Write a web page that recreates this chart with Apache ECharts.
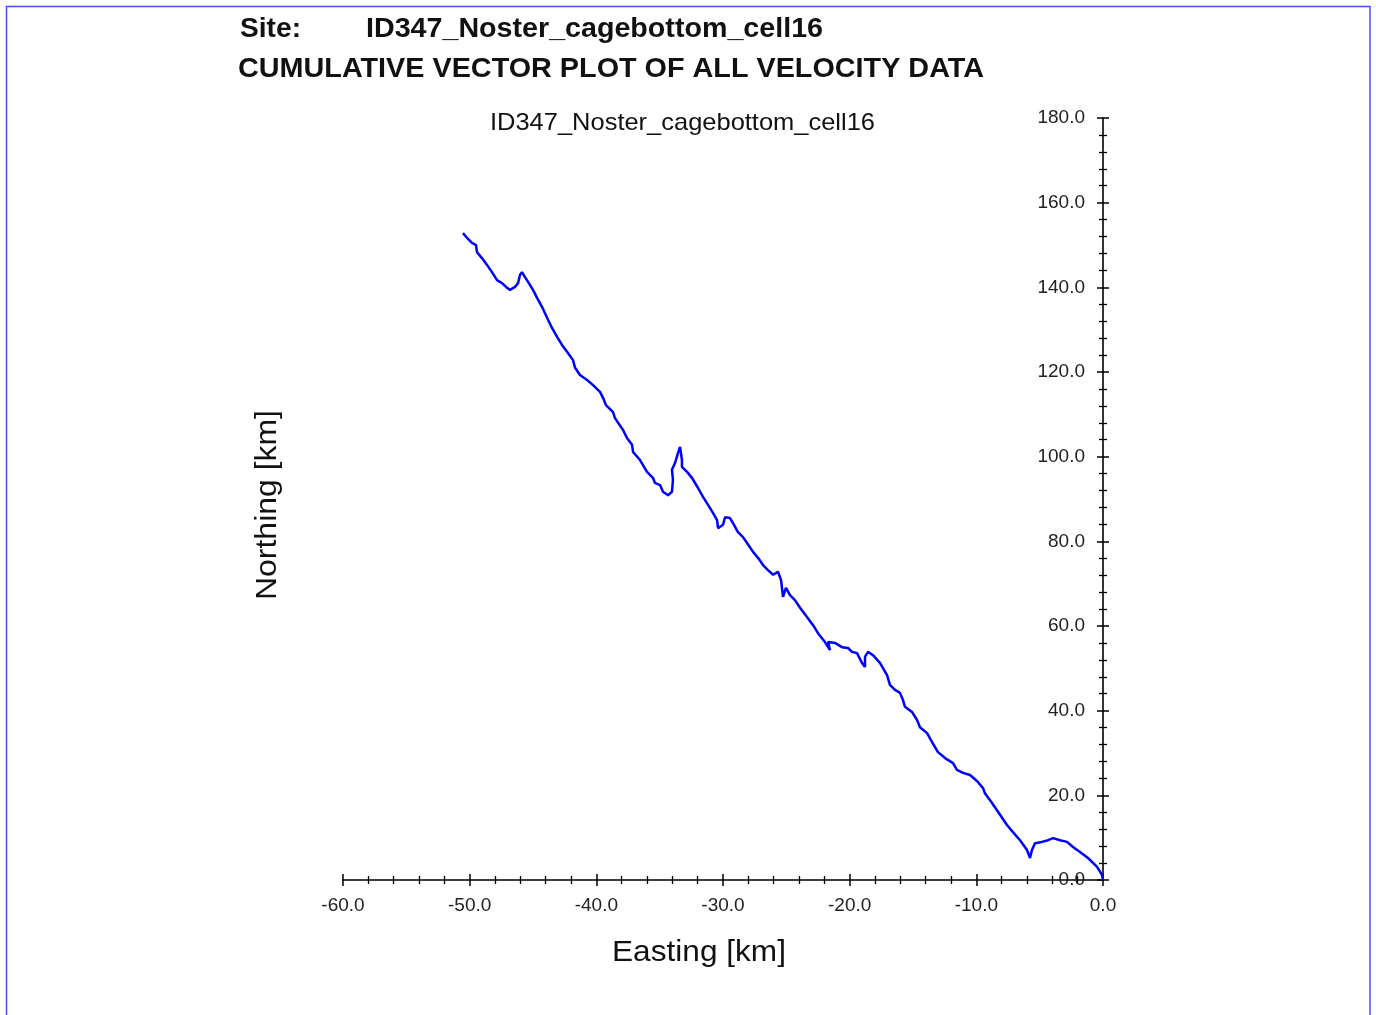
<!DOCTYPE html>
<html>
<head>
<meta charset="utf-8">
<script src="https://cdn.jsdelivr.net/npm/echarts@6/dist/echarts.min.js"></script>
<style>
html,body{margin:0;padding:0;background:#fff;}
#chart{width:1376px;height:1015px;}
</style>
</head>
<body>
<div id="chart"></div>
<script>
// Cumulative displacement path (km), starting at origin
const eastings = [0, -0.08, -0.47, -1.18, -1.82, -2.37, -2.84, -3.39, -3.95, -4.34,
  -4.82, -5.37, -5.61, -5.76, -6.00, -6.55, -7.11, -7.58, -8.13, -8.76,
  -9.32, -9.47, -9.95, -10.50, -11.05, -11.53, -11.84, -12.47, -13.03, -13.50,
  -13.89, -14.45, -14.68, -15.08, -15.63, -15.79, -16.03, -16.42, -16.82, -17.05,
  -17.61, -18.16, -18.55, -18.79, -18.79, -19.03, -19.42, -19.82, -20.13, -20.61,
  -21.16, -21.71, -21.55, -21.95, -22.50, -22.89, -23.37, -23.92, -24.32, -24.71,
  -25.03, -25.26, -25.42, -25.66, -26.05, -26.45, -26.84, -27.24, -27.63, -28.10,
  -28.42, -28.82, -29.21, -29.45, -29.84, -30.00, -30.39, -30.47, -30.79, -31.18,
  -31.58, -31.97, -32.45, -32.84, -33.24, -33.24, -33.39, -33.55, -33.79, -34.03,
  -33.95, -34.03, -34.34, -34.74, -34.97, -35.37, -35.53, -36.00, -36.55, -37.10,
  -37.18, -37.58, -37.89, -38.53, -38.68, -39.24, -39.47, -39.71, -40.26, -40.73,
  -41.29, -41.68, -41.84, -42.24, -42.71, -43.10, -43.50, -43.89, -44.29, -44.68,
  -45.00, -45.39, -45.63, -45.87, -46.03, -46.18, -46.42, -46.82, -47.05, -47.45,
  -47.84, -48.24, -48.63, -49.03, -49.42, -49.50, -49.82, -50.21, -50.53];
const northings = [0, 1.2, 3.1, 5.2, 6.6, 7.8, 9.0, 9.4, 9.9, 9.4,
  9.0, 8.7, 7.1, 5.2, 7.1, 9.4, 11.3, 13.0, 15.4, 18.2,
  20.5, 21.7, 23.4, 24.8, 25.3, 26.0, 27.6, 28.8, 30.2, 32.6,
  34.7, 36.1, 37.8, 39.7, 40.9, 42.5, 44.2, 44.9, 46.1, 48.4,
  51.3, 53.1, 53.9, 52.7, 50.3, 51.3, 53.6, 53.9, 54.8, 55.0,
  56.0, 56.2, 54.3, 56.2, 58.3, 60.2, 62.1, 64.3, 66.1, 67.3,
  69.0, 66.9, 70.9, 72.8, 72.1, 73.2, 74.4, 76.1, 77.5, 79.6,
  81.0, 82.2, 84.3, 85.5, 85.7, 83.9, 83.1, 85.0, 86.7, 88.6,
  90.5, 92.6, 95.0, 96.4, 97.6, 99.2, 102.3, 100.9, 98.5, 96.9,
  94.5, 91.7, 90.9, 91.7, 93.3, 93.8, 95.0, 96.4, 99.2, 101.1,
  102.8, 104.4, 106.3, 109.1, 110.5, 112.2, 113.9, 115.3, 116.9, 118.1,
  119.3, 121.0, 122.8, 124.5, 126.4, 128.3, 130.4, 132.8, 135.4, 137.5,
  139.4, 141.3, 142.4, 143.6, 142.9, 141.0, 140.1, 139.4, 139.9, 141.0,
  141.7, 143.6, 145.3, 146.9, 148.3, 150.0, 150.5, 151.7, 152.8];

const xRange = [-60, 0];
const yRange = [0, 180];
const xTickStep = 10;
const yTickStep = 20;

const siteLabel = 'Site:';
const siteName = 'ID347_Noster_cagebottom_cell16';
const mainTitle = 'CUMULATIVE VECTOR PLOT OF ALL VELOCITY DATA';
const plotTitle = 'ID347_Noster_cagebottom_cell16';
const xName = 'Easting [km]';
const yName = 'Northing [km]';

const pathData = eastings.map((e, i) => [e, northings[i]]);

// text width fitting helper
const cv = document.createElement('canvas').getContext('2d');
function fitScale(text, font, target) {
  cv.font = font;
  const w = cv.measureText(text).width;
  return target / w;
}
function txt(text, x, y, size, weight, target, opts) {
  const fam = "'Liberation Sans', Arial, sans-serif";
  const font = (weight === 'bold' ? 'bold ' : '') + size + 'px ' + fam;
  const s = fitScale(text, font, target);
  return Object.assign({
    type: 'text', x: x, y: y, scaleX: s,
    style: { text: text, font: font, fill: '#111', textAlign: 'left', textVerticalAlign: 'middle' }
  }, opts || {});
}

const labelFont = { fontFamily: "'Liberation Sans', Arial, sans-serif", fontSize: 19, color: '#222' };
const fmt = v => v.toFixed(1);
const tickStyle = { color: '#000', width: 1.5 };
const minorStyle = { color: '#000', width: 1.3 };

const chart = echarts.init(document.getElementById('chart'), null, { renderer: 'canvas' });
chart.setOption({
  backgroundColor: '#fff',
  animation: false,
  grid: { left: 343, top: 118, width: 760, height: 762, containLabel: false },
  xAxis: [{
    type: 'value', min: xRange[0], max: xRange[1], interval: xTickStep, position: 'bottom',
    axisLine: { show: true, onZero: false, lineStyle: { color: '#000', width: 1.6 } },
    axisTick: { show: true, length: 6, lineStyle: tickStyle },
    minorTick: { show: true, splitNumber: 5, length: 4, lineStyle: minorStyle },
    axisLabel: Object.assign({ margin: 16, formatter: fmt }, labelFont),
    splitLine: { show: false }
  }, {
    type: 'value', min: xRange[0], max: xRange[1], interval: xTickStep, position: 'bottom',
    axisLine: { show: false, onZero: false },
    axisTick: { show: true, inside: true, length: 6, lineStyle: tickStyle },
    minorTick: { show: true, splitNumber: 5, length: 4, lineStyle: minorStyle },
    axisLabel: { show: false },
    splitLine: { show: false }
  }],
  yAxis: [{
    type: 'value', min: yRange[0], max: yRange[1], interval: yTickStep, position: 'right',
    axisLine: { show: true, onZero: false, lineStyle: { color: '#000', width: 1.6 } },
    axisTick: { show: true, length: 6, lineStyle: tickStyle },
    minorTick: { show: true, splitNumber: 5, length: 4, lineStyle: minorStyle },
    axisLabel: Object.assign({ inside: true, margin: 18, formatter: fmt }, labelFont),
    splitLine: { show: false }
  }, {
    type: 'value', min: yRange[0], max: yRange[1], interval: yTickStep, position: 'right',
    axisLine: { show: false, onZero: false },
    axisTick: { show: true, inside: true, length: 6, lineStyle: tickStyle },
    minorTick: { show: true, splitNumber: 5, length: 4, lineStyle: minorStyle },
    axisLabel: { show: false },
    splitLine: { show: false }
  }],
  series: [{
    type: 'line', xAxisIndex: 0, yAxisIndex: 0, data: pathData,
    showSymbol: false, symbol: 'none', smooth: false,
    lineStyle: { color: '#0000ff', width: 2.5 }, z: 5
  }],
  graphic: [
    { type: 'rect', shape: { x: 6.5, y: 6.5, width: 1363.5, height: 1040 },
      style: { fill: null, stroke: '#4a4aff', lineWidth: 1.5 }, silent: true },
    txt(siteLabel, 240, 29, 28, 'bold', 61),
    txt(siteName, 366, 29, 28, 'bold', 457),
    txt(mainTitle, 238, 69, 28, 'bold', 746),
    txt(plotTitle, 490, 123, 24, 'normal', 385),
    txt(xName, 612, 953, 30, 'normal', 174),
    Object.assign(txt(yName, 268, 600, 30, 'normal', 190), { rotation: Math.PI / 2 })
  ]
});
</script>
</body>
</html>
